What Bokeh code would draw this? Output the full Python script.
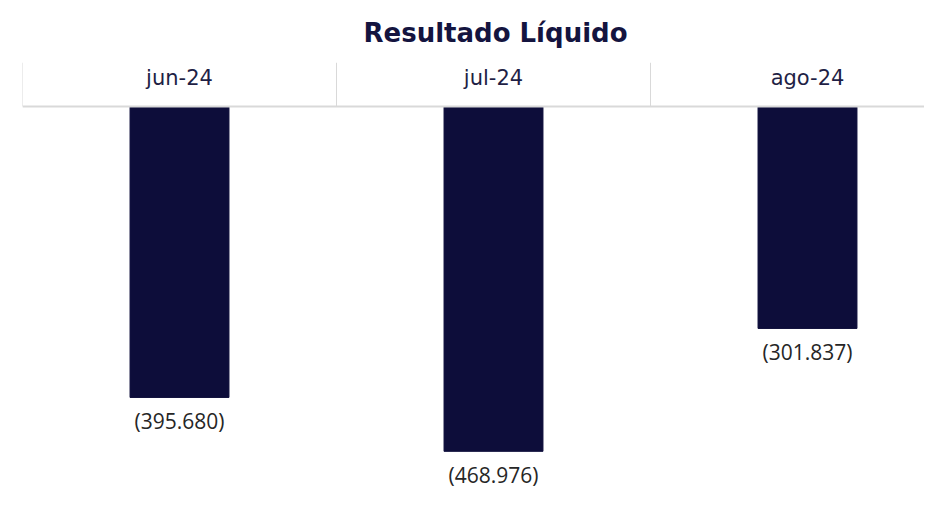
from bokeh.plotting import figure
from bokeh.models import Range1d, ColumnDataSource, Title, Span
from bokeh.core.properties import value
from bokeh.embed import file_html
from bokeh.resources import INLINE

# data
months = ["jun-24", "jul-24", "ago-24"]
results = [-395680, -468976, -301837]
labels = ["(395.680)", "(468.976)", "(301.837)"]

pos = list(range(len(months)))
W, H = 924, 489
left = 22
top = 62
frame_w = W - left
frame_h = H - top
px_per_cat = 314
units_per_px = 1360
header_px = 44

src = ColumnDataSource(dict(x=pos, v=results, lab=labels, zero=[0] * len(pos),
                            hy=[29 * units_per_px] * len(pos), m=months))
seps = [i - 0.5 for i in range(len(months) + 1)]
sep_src = ColumnDataSource(dict(x=seps, y0=[0] * len(seps),
                                y1=[header_px * units_per_px] * len(seps)))

p = figure(width=W, height=H, output_backend="svg", toolbar_location=None,
           x_axis_type=None, y_axis_type=None,
           x_range=Range1d(-0.5, -0.5 + frame_w / px_per_cat),
           y_range=Range1d(-(frame_h - header_px) * units_per_px, header_px * units_per_px),
           min_border_left=left, min_border_right=0, min_border_bottom=0,
           min_border_top=top)
p.outline_line_color = None
p.xgrid.visible = False
p.ygrid.visible = False
p.background_fill_color = "white"
p.border_fill_color = "white"

t = Title(text="Resultado Líquido", align="left", offset=341, standoff=29,
          text_font="DejaVu Sans", text_font_style="bold", text_font_size="26px",
          text_color="#14143f")
p.add_layout(t, "above")

# header separators and baseline
p.segment(x0="x", y0="y0", x1="x", y1="y1", source=sep_src,
          line_color="#d9d9d9", line_width=1)
p.add_layout(Span(location=0, dimension="width", line_color="#d9d9d9", line_width=2))

# month labels in header
p.text(x="x", y="hy", text="m", source=src, text_align="center", text_baseline="middle",
       text_font=value("DejaVu Sans"), text_font_size="21px", text_color="#1f1f45")

p.vbar(x="x", top="zero", bottom="v", width=0.315, source=src,
       fill_color="#0d0d3a", line_color="#0d0d3a")

p.text(x="x", y="v", text="lab", source=src, y_offset=24,
       text_align="center", text_baseline="middle",
       text_font=value("Open Sans"), text_font_size="21px", text_color="#262626")

open("out.html", "w").write(file_html(p, INLINE))
